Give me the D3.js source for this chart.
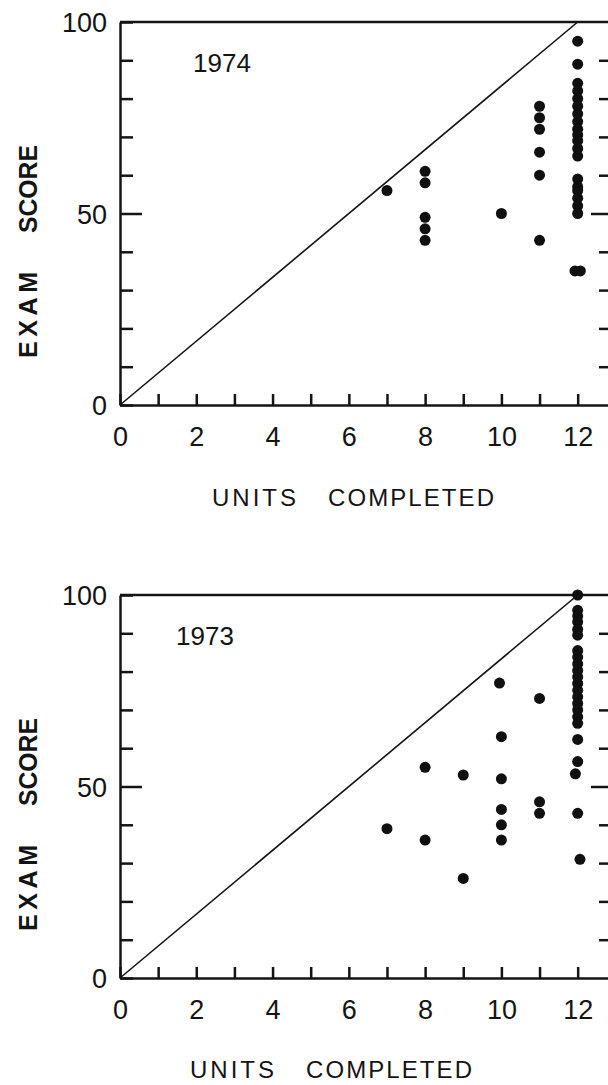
<!DOCTYPE html>
<html>
<head>
<meta charset="utf-8">
<script src="https://cdn.jsdelivr.net/npm/d3@7"></script>
<style>
	body { margin: 0; background: #fff; }
	svg { display: block; }
	.axis path, .axis line, .frame { stroke: #141414; stroke-width: 2.5; fill: none; }
	.diag { stroke: #141414; stroke-width: 1.6; fill: none; }
	.dot { fill: #101010; }
	text { font-family: "Liberation Sans", Arial, sans-serif; fill: #141414; }
</style>
</head>
<body>
<div id="chart"></div>
<script>
// ---- data ---- //
var units1974 = [7, 8, 8, 8, 8, 8, 10, 11, 11, 11, 11, 11, 11,
	12, 12, 12, 12, 12, 12, 12, 12, 12, 12, 12, 12, 12, 12, 12, 12, 12, 12, 12, 11.93, 12.07];
var scores1974 = [56, 61, 58, 49, 46, 43, 50, 78, 75, 72, 66, 60, 43,
	95, 89, 84, 82, 80, 78, 76, 74, 72, 70.5, 69, 67, 65, 59, 57, 56, 54, 52, 50, 35, 35];

var units1973 = [7, 8, 8, 9, 9, 9.95, 10, 10, 10, 10, 10, 11, 11, 11,
	12, 12, 12, 12, 12, 12, 12, 12, 12, 12, 12, 12, 12, 12, 12, 12, 12, 12, 12, 12, 11.94, 12, 12.06];
var scores1973 = [39, 55, 36, 53, 26, 77, 63, 52, 44, 40, 36, 73, 46, 43,
	100, 96, 94.5, 93, 91, 89.5, 85.5, 83.8, 82, 80.3, 78.6, 76.9, 75.1, 73.4, 71.7, 70, 68.2, 66.5, 62.3, 56.5, 53.3, 43, 31];

// line of "score = units / 12 * 100"
var diagUnits = [0, 12];
var diagScores = [0, 100];

var xTickValues = [0, 1, 2, 3, 4, 5, 6, 7, 8, 9, 10, 11, 12];
var xLabelValues = [0, 2, 4, 6, 8, 10, 12];
var yTickValues = [0, 10, 20, 30, 40, 50, 60, 70, 80, 90, 100];
var yLabelValues = [0, 50, 100];


function ScatterPanel(){

}

// opts
//  - left, top: pixel origin of the plot box
//  - year: the label in the upper left corner
ScatterPanel.prototype.init = function(svg, opts){
	var self = this;

	self._opts = opts;

	self._width = 492; // the right edge sits just past the window
	self._height = 383;

	// x runs a bit beyond 12, the frame is cut by the page
	self._x = d3.scaleLinear().domain([0, 12.9]).range([0, self._width]);
	self._y = d3.scaleLinear().domain([0, 100]).range([self._height, 0]);

	self._g = svg.append("g")
		.attr("transform", "translate(" + opts.left + "," + opts.top + ")");

	return self;
};

ScatterPanel.prototype.draw = function(units, scores){
	var self = this;
	var opts = self._opts;
	var x = self._x, y = self._y;

	// ticks point inward
	var xAxis = d3.axisBottom(x)
		.tickValues(xTickValues)
		.tickSizeInner(-11)
		.tickSizeOuter(0)
		.tickPadding(22)
		.tickFormat(function(d){ return xLabelValues.indexOf(d) >= 0 ? d : ""; });

	var yAxis = d3.axisLeft(y)
		.tickValues(yTickValues)
		.tickSizeInner(-13)
		.tickSizeOuter(0)
		.tickPadding(13)
		.tickFormat(function(d){ return yLabelValues.indexOf(d) >= 0 ? d : ""; });

	var rightAxis = d3.axisRight(y)
		.tickValues(yTickValues.slice(1, -1))
		.tickSizeInner(-13)
		.tickSizeOuter(0)
		.tickFormat("");

	var gx = self._g.append("g")
		.attr("class", "axis x")
		.attr("transform", "translate(0," + self._height + ")")
		.call(xAxis);
	gx.selectAll("text")
		.attr("font-size", 27)
		.attr("font-family", null)
		.attr("dy", "0.72em");

	var gy = self._g.append("g")
		.attr("class", "axis y")
		.call(yAxis);
	gy.selectAll("text")
		.attr("font-size", 27)
		.attr("font-family", null)
		.attr("dy", "0.36em");

	// the middle tick is longer
	gy.selectAll(".tick").filter(function(d){ return d === 50; })
		.select("line").attr("x2", 22);

	var gr = self._g.append("g")
		.attr("class", "axis right")
		.attr("transform", "translate(" + self._width + ",0)")
		.call(rightAxis);
	gr.selectAll(".tick").filter(function(d){ return d === 50; })
		.select("line").attr("x2", -21);

	// top of the frame
	self._g.append("line")
		.attr("class", "frame")
		.attr("x1", 0).attr("x2", self._width)
		.attr("y1", y(100)).attr("y2", y(100));

	// diagonal
	var line = d3.line()
		.x(function(d){ return x(d[0]); })
		.y(function(d){ return y(d[1]); });
	self._g.append("path")
		.attr("class", "diag")
		.attr("d", line(d3.zip(diagUnits, diagScores)));

	// the students
	self._g.append("g").selectAll("circle")
		.data(d3.zip(units, scores))
		.enter().append("circle")
			.attr("class", "dot")
			.attr("cx", function(d){ return x(d[0]); })
			.attr("cy", function(d){ return y(d[1]); })
			.attr("r", 5.5);

	// year
	self._g.append("text")
		.attr("x", opts.yearX)
		.attr("y", 50)
		.attr("font-size", 26)
		.text(opts.year);

	// x title, two words set apart
	var tx = self._g.append("g")
		.attr("transform", "translate(0," + (self._height + opts.titleDy) + ")");
	tx.append("text")
		.attr("x", opts.unitsX)
		.attr("font-size", 24)
		.attr("textLength", 84)
		.attr("lengthAdjust", "spacing")
		.text("UNITS");
	tx.append("text")
		.attr("x", opts.unitsX + 116)
		.attr("font-size", 24)
		.attr("textLength", 166)
		.attr("lengthAdjust", "spacing")
		.text("COMPLETED");

	// y title, reads bottom to top
	self._g.append("text")
		.attr("transform", "translate(-83," + (self._height - 47) + ") rotate(-90)")
		.attr("font-size", 25)
		.attr("font-weight", "bold")
		.attr("textLength", 86)
		.attr("lengthAdjust", "spacing")
		.text("EXAM");
	self._g.append("text")
		.attr("transform", "translate(-83," + (self._height - 172) + ") rotate(-90)")
		.attr("font-size", 25)
		.attr("font-weight", "bold")
		.attr("textLength", 88)
		.attr("lengthAdjust", "spacingAndGlyphs")
		.text("SCORE");

	return self;
};


var svg = d3.select("#chart").append("svg")
	.attr("width", 608)
	.attr("height", 1085);

new ScatterPanel()
	.init(svg, {left: 120, top: 22, year: "1974", yearX: 73, unitsX: 92, titleDy: 101})
	.draw(units1974, scores1974);

new ScatterPanel()
	.init(svg, {left: 120, top: 595, year: "1973", yearX: 56, unitsX: 70, titleDy: 100})
	.draw(units1973, scores1973);
</script>
</body>
</html>
